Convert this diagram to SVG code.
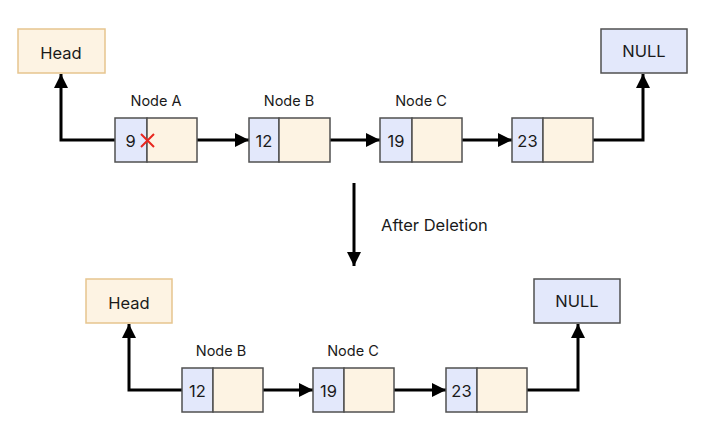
<svg xmlns="http://www.w3.org/2000/svg" width="703" height="431" viewBox="0 0 703 431">
<defs>
<style>
text{font-family:Inter,"Noto Sans","Liberation Sans",sans-serif;fill:#1a1a1a}
.head{fill:#fdf3e3;stroke:#e6c58e;stroke-width:1.5}
.null{fill:#e3e8fb;stroke:#505050;stroke-width:1.5}
.val{fill:#e3e8fb;stroke:#505050;stroke-width:1.5}
.ptr{fill:#fdf3e3;stroke:#505050;stroke-width:1.5}
.box{font-size:16.5px;text-anchor:middle}
.lbl{font-size:14.5px;text-anchor:middle}
.num{font-size:16.5px;text-anchor:middle}
.conn{fill:none;stroke:#000;stroke-width:3;marker-end:url(#ah)}
</style>
<marker id="ah" markerUnits="userSpaceOnUse" markerWidth="15" markerHeight="15" refX="14" refY="7" orient="auto">
<path d="M0,0 L14,7 L0,14 z" fill="#000"/>
</marker>
</defs>
<rect width="703" height="431" fill="#ffffff"/>

<g id="connectors">
<path class="conn" d="M115,140 H61 V74"/>
<path class="conn" d="M197,140 H249"/>
<path class="conn" d="M330,140 H380"/>
<path class="conn" d="M462,140 H512"/>
<path class="conn" d="M593,140 H643 V74"/>
<path class="conn" d="M354,183 V266"/>
<path class="conn" d="M182,390 H129 V324"/>
<path class="conn" d="M263,390 H313"/>
<path class="conn" d="M394,390 H446"/>
<path class="conn" d="M527,390 H578 V324"/>
</g>

<g id="head-top">
<rect class="head" x="18" y="29" width="87" height="44"/>
<text class="box" x="61" y="59">Head</text>
</g>
<g id="null-top">
<rect class="null" x="601" y="29" width="86" height="44"/>
<text class="box" x="644" y="57">NULL</text>
</g>

<g id="nodeA-top">
<text class="lbl" x="156" y="106">Node A</text>
<rect class="val" x="115" y="118" width="32" height="44"/>
<rect class="ptr" x="147" y="118" width="50" height="44"/>
<text class="num" x="130.5" y="147">9</text>
<path d="M141,134 L154,147 M154,134 L141,147" stroke="#e8261e" stroke-width="2" fill="none"/>
</g>
<g id="nodeB-top">
<text class="lbl" x="289" y="106">Node B</text>
<rect class="val" x="249" y="118" width="30" height="44"/>
<rect class="ptr" x="279" y="118" width="51" height="44"/>
<text class="num" x="264" y="147">12</text>
</g>
<g id="nodeC-top">
<text class="lbl" x="421" y="106">Node C</text>
<rect class="val" x="380" y="118" width="32" height="44"/>
<rect class="ptr" x="412" y="118" width="50" height="44"/>
<text class="num" x="396" y="147">19</text>
</g>
<g id="nodeD-top">
<rect class="val" x="512" y="118" width="31" height="44"/>
<rect class="ptr" x="543" y="118" width="50" height="44"/>
<text class="num" x="527.5" y="147">23</text>
</g>

<g id="after-deletion">
<text x="381" y="231" style="font-size:16.5px">After Deletion</text>
</g>

<g id="head-bottom">
<rect class="head" x="86" y="279" width="86" height="44"/>
<text class="box" x="129" y="309">Head</text>
</g>
<g id="null-bottom">
<rect class="null" x="534" y="279" width="86" height="44"/>
<text class="box" x="577" y="307">NULL</text>
</g>
<g id="nodeB-bottom">
<text class="lbl" x="221" y="356">Node B</text>
<rect class="val" x="182" y="368" width="31" height="44"/>
<rect class="ptr" x="213" y="368" width="50" height="44"/>
<text class="num" x="197.5" y="397">12</text>
</g>
<g id="nodeC-bottom">
<text class="lbl" x="353" y="356">Node C</text>
<rect class="val" x="313" y="368" width="31" height="44"/>
<rect class="ptr" x="344" y="368" width="50" height="44"/>
<text class="num" x="328.5" y="397">19</text>
</g>
<g id="nodeD-bottom">
<rect class="val" x="446" y="368" width="31" height="44"/>
<rect class="ptr" x="477" y="368" width="50" height="44"/>
<text class="num" x="461.5" y="397">23</text>
</g>
</svg>
